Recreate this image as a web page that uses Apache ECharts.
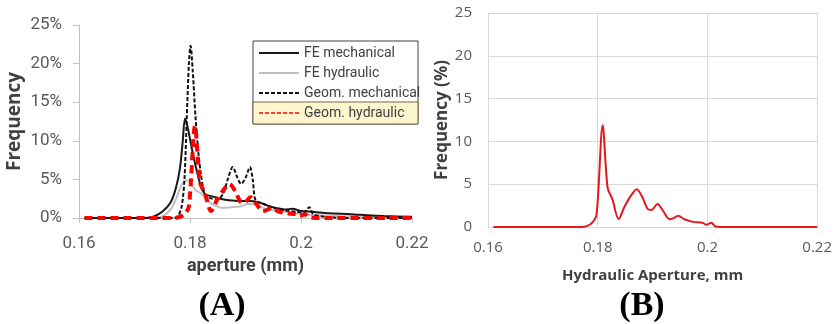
<!DOCTYPE html>
<html>
<head>
<meta charset="utf-8">
<script src="https://cdn.jsdelivr.net/npm/echarts@6/dist/echarts.min.js"></script>
<style>html,body{margin:0;padding:0;background:#fff}#c{width:835px;height:324px}</style>
</head>
<body>
<div id="c"></div>
<script>
// ---- Data ----
var xTicks = [0.16, 0.18, 0.2, 0.22];
var seriesNamesA = ['FE mechanical', 'FE hydraulic', 'Geom. mechanical', 'Geom. hydraulic'];

var feMechX = [0.161,0.172,0.1735,0.175,0.1765,0.1775,0.1782,0.1787,0.1791,0.1796,0.1805,0.1818,0.1827,0.184,0.1855,0.187,0.189,0.191,0.1925,0.194,0.1955,0.197,0.1985,0.2,0.202,0.205,0.209,0.212,0.215,0.22];
var feMechY = [0,0,0.2,0.8,2.0,4.0,6.5,10.0,12.9,11.7,8.4,4.5,3.1,2.8,2.5,2.3,2.2,2.2,2.0,1.6,1.3,1.1,1.2,0.9,0.8,0.6,0.5,0.35,0.25,0.15];

var feHydX = [0.161,0.173,0.1746,0.1764,0.1775,0.1785,0.1794,0.180,0.181,0.182,0.183,0.1845,0.186,0.1875,0.189,0.1905,0.192,0.1935,0.195,0.197,0.2,0.203,0.207,0.212,0.216,0.22];
var feHydY = [0,0,0.1,1.0,2.5,4.3,4.9,4.6,3.6,3.2,2.3,1.6,1.3,1.4,1.5,1.8,1.7,1.2,1.0,0.8,0.5,0.35,0.25,0.2,0.15,0.1];

var geomMechX = [0.161,0.177,0.1778,0.1785,0.179,0.1794,0.1798,0.1801,0.1805,0.181,0.1815,0.182,0.1825,0.183,0.184,0.185,0.186,0.1868,0.1877,0.1885,0.1892,0.19,0.1908,0.1913,0.1918,0.193,0.195,0.197,0.199,0.2005,0.2015,0.2022,0.204,0.206,0.21,0.22];
var geomMechY = [0,0,0.2,1.5,5.0,12.6,20.0,22.3,19.0,13.0,8.5,5.5,3.5,2.8,2.5,2.4,3.2,5.0,6.6,5.3,4.4,5.2,6.6,5.0,2.3,1.9,1.3,1.0,0.8,0.7,1.4,0.5,0.2,0.05,0,0];

// Geom. hydraulic (used in panel A and panel B)
var geomHydX = [0.161,0.177,0.178,0.179,0.1798,0.1809,0.1818,0.1827,0.1838,0.1849,0.186,0.1871,0.1882,0.1891,0.1898,0.1909,0.1918,0.1931,0.1937,0.1947,0.1958,0.1973,0.1991,0.1998,0.2007,0.2015,0.203,0.22];
var geomHydY = [0,0,0.1,0.5,1.5,11.9,4.6,3.2,0.9,2.4,3.6,4.4,3.4,2.1,2.0,2.7,2.0,0.9,1.0,1.3,0.9,0.6,0.5,0.25,0.5,0.05,0,0];

function pairs(xs, ys){ return xs.map(function(x,i){ return [x, ys[i]]; }); }

var chart = echarts.init(document.getElementById('c'), null, {renderer:'canvas'});
var rob = "Roboto, 'Noto Sans', sans-serif";
var sans = "'Open Sans', 'Noto Sans', sans-serif";

var option = {
  animation: false,
  backgroundColor: '#fff',
  grid: [
    {left: 79, width: 333, top: 25, height: 193},
    {left: 488, width: 330, top: 13, height: 214}
  ],
  xAxis: [
    {gridIndex: 0, type: 'value', min: 0.16, max: 0.22, interval: 0.02,
     name: 'aperture (mm)', nameLocation: 'middle', nameGap: 39,
     nameTextStyle: {fontFamily: rob, fontSize: 18, fontWeight: 'bold', color: '#404040'},
     axisLine: {show: true, lineStyle: {color: '#bfbfbf', width: 1}},
     axisTick: {show: true, length: 5, lineStyle: {color: '#bfbfbf'}},
     axisLabel: {margin: 17, fontFamily: rob, fontSize: 17, color: '#595959',
       formatter: function(v){ return String(+v.toFixed(2)); }},
     splitLine: {show: false}},
    {gridIndex: 1, type: 'value', min: 0.16, max: 0.22, interval: 0.02,
     name: 'Hydraulic Aperture, mm', nameLocation: 'middle', nameGap: 41,
     nameTextStyle: {fontFamily: sans, fontSize: 15, fontWeight: 'bold', color: '#404040'},
     axisLine: {show: false}, axisTick: {show: false},
     axisLabel: {margin: 13, fontFamily: sans, fontSize: 15, color: '#595959',
       formatter: function(v){ return String(+v.toFixed(2)); }},
     splitLine: {show: true, lineStyle: {color: '#d9d9d9', width: 1}}}
  ],
  yAxis: [
    {gridIndex: 0, type: 'value', min: 0, max: 25, interval: 5,
     name: 'Frequency', nameLocation: 'middle', nameGap: 55, nameRotate: 90,
     nameTextStyle: {fontFamily: sans, fontSize: 19, fontWeight: 'bold', color: '#404040'},
     axisLine: {show: true, lineStyle: {color: '#bfbfbf', width: 1}},
     axisTick: {show: true, length: 6, lineStyle: {color: '#bfbfbf'}},
     axisLabel: {margin: 17, fontFamily: rob, fontSize: 17, color: '#595959', formatter: '{value}%'},
     splitLine: {show: false}},
    {gridIndex: 1, type: 'value', min: 0, max: 25, interval: 5,
     name: 'Frequency (%)', nameLocation: 'middle', nameGap: 36, nameRotate: 90,
     nameTextStyle: {fontFamily: sans, fontSize: 17, fontWeight: 'bold', color: '#404040'},
     axisLine: {show: false}, axisTick: {show: false},
     axisLabel: {margin: 16, fontFamily: sans, fontSize: 15, color: '#595959'},
     splitLine: {show: true, lineStyle: {color: '#d9d9d9', width: 1}}}
  ],
  legend: {
    orient: 'vertical', left: 258, top: 46, padding: 0,
    itemWidth: 40, itemHeight: 14, itemGap: 6,
    itemStyle: {color: 'rgba(0,0,0,0)', borderWidth: 0, opacity: 0},
    textStyle: {fontFamily: rob, fontSize: 14, color: '#404040'},
    data: [
      {name: seriesNamesA[0]},
      {name: seriesNamesA[1]},
      {name: seriesNamesA[2]},
      {name: seriesNamesA[3], lineStyle: {width: 1.5, type: [4, 2]}}
    ]
  },
  graphic: [
    {type: 'rect', z: 0, shape: {x: 253, y: 41, width: 165, height: 83},
     style: {fill: '#fff', stroke: '#404040', lineWidth: 1}},
    {type: 'rect', z: 1, shape: {x: 253, y: 102, width: 165, height: 22},
     style: {fill: '#fdf6cf', stroke: '#7a6440', lineWidth: 1}},
    {type: 'text', z: 5, x: 222, y: 306,
     style: {text: '(A)', font: "bold 34px 'Liberation Serif', 'Times New Roman', serif", fill: '#000', textAlign: 'center', textVerticalAlign: 'middle'}},
    {type: 'text', z: 5, x: 642, y: 306,
     style: {text: '(B)', font: "bold 34px 'Liberation Serif', 'Times New Roman', serif", fill: '#000', textAlign: 'center', textVerticalAlign: 'middle'}}
  ],
  series: [
    {name: seriesNamesA[0], type: 'line', xAxisIndex: 0, yAxisIndex: 0, data: pairs(feMechX, feMechY),
     symbol: 'none', smooth: 0.3, lineStyle: {color: '#1a1a1a', width: 2}, itemStyle: {color: '#1a1a1a'}, z: 3},
    {name: seriesNamesA[1], type: 'line', xAxisIndex: 0, yAxisIndex: 0, data: pairs(feHydX, feHydY),
     symbol: 'none', smooth: 0.3, lineStyle: {color: '#bfbfbf', width: 2}, itemStyle: {color: '#bfbfbf'}, z: 2},
    {name: seriesNamesA[2], type: 'line', xAxisIndex: 0, yAxisIndex: 0, data: pairs(geomMechX, geomMechY),
     symbol: 'none', smooth: 0.3, lineStyle: {color: '#111', width: 2, type: [4, 2]}, itemStyle: {color: '#111'}, z: 4},
    {name: seriesNamesA[3], type: 'line', xAxisIndex: 0, yAxisIndex: 0, data: pairs(geomHydX, geomHydY),
     symbol: 'none', smooth: 0.3, lineStyle: {color: '#ff0000', width: 4, type: [8, 5]}, itemStyle: {color: '#ff0000'}, z: 5},
    {name: 'B', type: 'line', xAxisIndex: 1, yAxisIndex: 1, data: pairs(geomHydX, geomHydY),
     symbol: 'none', smooth: 0.3, lineStyle: {color: '#e3191c', width: 2}, itemStyle: {color: '#e3191c'}}
  ]
};
chart.setOption(option);
</script>
</body>
</html>
